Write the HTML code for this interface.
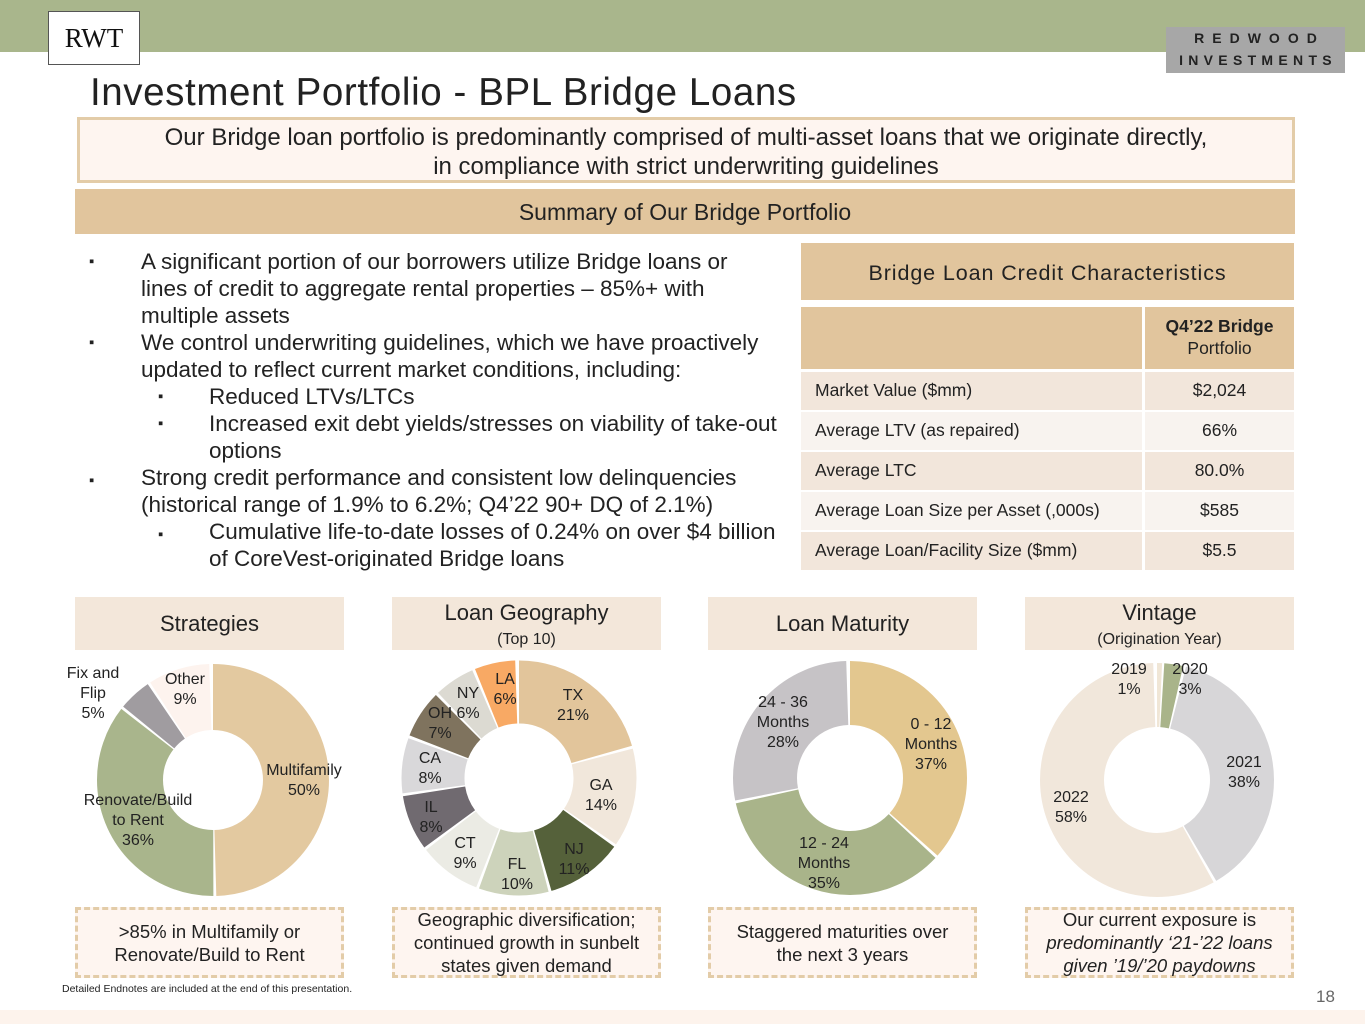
<!DOCTYPE html>
<html><head><meta charset="utf-8"><style>
body{margin:0;width:1365px;height:1024px;position:relative;background:#fff;font-family:"Liberation Sans",sans-serif;color:#222;overflow:hidden}
.a{position:absolute}
.c{text-align:center}
.dash{position:absolute;border:3px dashed #e3cca8;background:#fef5f0;box-sizing:border-box;display:flex;align-items:center;justify-content:center;text-align:center;font-size:18.5px;line-height:23px;color:#222}
.hd{position:absolute;background:#f3e7da;text-align:center;font-size:22px;color:#222}
.b{position:absolute;font-size:22.5px;line-height:27px;color:#222;white-space:nowrap}
.bl{position:absolute;font-size:15px;line-height:27px}
</style></head><body>
<div class="a" style="left:0;top:0;width:1365px;height:52px;background:#a9b68c"></div>
<div class="a" style="left:48px;top:11px;width:92px;height:54px;background:#fff;border:1px solid #555;box-sizing:border-box;font-family:'Liberation Serif',serif;font-size:27px;line-height:52px;text-align:center;color:#111">RWT</div>
<div class="a" style="left:1166px;top:27px;width:179px;height:46px;background:#a7a7a7;color:#222;font-weight:bold;font-size:14px;text-align:center;line-height:22px"><div style="letter-spacing:8px;padding-left:8px">REDWOOD</div><div style="letter-spacing:5.3px;padding-left:5px">INVESTMENTS</div></div>
<div class="a" style="left:90px;top:71px;font-size:38.5px;color:#222;letter-spacing:0.6px">Investment Portfolio - BPL Bridge Loans</div>
<div class="a c" style="left:77px;top:117px;width:1218px;height:66px;box-sizing:border-box;border:3px solid #e3cca8;background:#fef5f0;font-size:24px;line-height:29px;padding-top:3px;white-space:nowrap">Our Bridge loan portfolio is predominantly comprised of multi-asset loans that we originate directly,<br>in compliance with strict underwriting guidelines</div>
<div class="a c" style="left:75px;top:189px;width:1220px;height:45px;background:#e1c59d;font-size:23px;line-height:46px">Summary of Our Bridge Portfolio</div>

<div class="b" style="left:141px;top:248px;width:650px">
A significant portion of our borrowers utilize Bridge loans or<br>lines of credit to aggregate rental properties – 85%+ with<br>multiple assets<br>We control underwriting guidelines, which we have proactively<br>updated to reflect current market conditions, including:<br>
<span style="margin-left:68px">Reduced LTVs/LTCs</span><br>
<span style="margin-left:68px">Increased exit debt yields/stresses on viability of take-out</span><br>
<span style="margin-left:68px">options</span><br>
Strong credit performance and consistent low delinquencies<br>(historical range of 1.9% to 6.2%; Q4’22 90+ DQ of 2.1%)<br>
<span style="margin-left:68px">Cumulative life-to-date losses of 0.24% on over $4 billion</span><br>
<span style="margin-left:68px">of CoreVest-originated Bridge loans</span>
</div>
<div class="bl" style="left:89px;top:248px">▪<br><br><br>▪</div>
<div class="bl" style="left:89px;top:467px">▪</div>
<div class="bl" style="left:158px;top:383px">▪<br>▪</div>
<div class="bl" style="left:158px;top:521px">▪</div>

<div class="a c" style="left:801px;top:243px;width:493px;height:57px;background:#e1c59d;font-size:21.5px;line-height:60px;letter-spacing:0.9px;color:#222">Bridge Loan Credit Characteristics</div>
<div class="a" style="left:801px;top:307px;width:341px;height:62px;background:#e1c59d"></div>
<div class="a c" style="left:1145px;top:307px;width:149px;height:62px;background:#e1c59d;font-size:17.5px;line-height:22px;padding-top:8px;box-sizing:border-box"><b>Q4’22 Bridge</b><br>Portfolio</div>
<div class="a" style="left:801px;top:372px;width:341px;height:38px;background:#f2e6db"></div><div class="a" style="left:1145px;top:372px;width:149px;height:38px;background:#f2e6db"></div>
<div class="a" style="left:801px;top:412px;width:341px;height:38px;background:#f8f3ef"></div><div class="a" style="left:1145px;top:412px;width:149px;height:38px;background:#f8f3ef"></div>
<div class="a" style="left:801px;top:452px;width:341px;height:38px;background:#f2e6db"></div><div class="a" style="left:1145px;top:452px;width:149px;height:38px;background:#f2e6db"></div>
<div class="a" style="left:801px;top:492px;width:341px;height:38px;background:#f8f3ef"></div><div class="a" style="left:1145px;top:492px;width:149px;height:38px;background:#f8f3ef"></div>
<div class="a" style="left:801px;top:532px;width:341px;height:38px;background:#f2e6db"></div><div class="a" style="left:1145px;top:532px;width:149px;height:38px;background:#f2e6db"></div>
<div class="a" style="left:815px;top:370px;font-size:17.5px;line-height:40px">Market Value ($mm)<br>Average LTV (as repaired)<br>Average LTC<br>Average Loan Size per Asset (,000s)<br>Average Loan/Facility Size ($mm)</div>
<div class="a c" style="left:1145px;top:370px;width:149px;font-size:17.5px;line-height:40px">$2,024<br>66%<br>80.0%<br>$585<br>$5.5</div>

<div class="hd" style="left:75px;top:597px;width:269px;height:53px;line-height:54px">Strategies</div>
<div class="hd" style="left:392px;top:597px;width:269px;height:53px;line-height:24px;padding-top:4px;box-sizing:border-box">Loan Geography<br><span style="font-size:16px">(Top 10)</span></div>
<div class="hd" style="left:708px;top:597px;width:269px;height:53px;line-height:54px">Loan Maturity</div>
<div class="hd" style="left:1025px;top:597px;width:269px;height:53px;line-height:24px;padding-top:4px;box-sizing:border-box">Vintage<br><span style="font-size:16px">(Origination Year)</span></div>

<svg class="a" style="left:0;top:0" width="1365" height="1024" font-family="Liberation Sans" font-size="16" fill="#222">
<g transform="translate(213,780) rotate(-90)" fill="none" stroke-width="66">
<circle r="83" pathLength="100" stroke="#e3c9a0" stroke-dasharray="49.6 100" stroke-dashoffset="0"/>
<circle r="83" pathLength="100" stroke="#a9b58c" stroke-dasharray="35.6 100" stroke-dashoffset="-50"/>
<circle r="83" pathLength="100" stroke="#a09ca0" stroke-dasharray="4.6 100" stroke-dashoffset="-86"/>
<circle r="83" pathLength="100" stroke="#fdf3ee" stroke-dasharray="8.6 100" stroke-dashoffset="-91"/>
</g>
<g transform="translate(519,778) rotate(-90)" fill="none" stroke-width="63">
<circle r="86" pathLength="100" stroke="#e2c59b" stroke-dasharray="20.6 100" stroke-dashoffset="0"/>
<circle r="86" pathLength="100" stroke="#f1e7db" stroke-dasharray="13.6 100" stroke-dashoffset="-21"/>
<circle r="86" pathLength="100" stroke="#55613a" stroke-dasharray="10.6 100" stroke-dashoffset="-35"/>
<circle r="86" pathLength="100" stroke="#cdd3bb" stroke-dasharray="9.6 100" stroke-dashoffset="-46"/>
<circle r="86" pathLength="100" stroke="#ebebe4" stroke-dasharray="8.6 100" stroke-dashoffset="-56"/>
<circle r="86" pathLength="100" stroke="#706a70" stroke-dasharray="7.6 100" stroke-dashoffset="-65"/>
<circle r="86" pathLength="100" stroke="#d9d8da" stroke-dasharray="7.6 100" stroke-dashoffset="-73"/>
<circle r="86" pathLength="100" stroke="#7f735e" stroke-dasharray="6.6 100" stroke-dashoffset="-81"/>
<circle r="86" pathLength="100" stroke="#dcdad2" stroke-dasharray="5.6 100" stroke-dashoffset="-88"/>
<circle r="86" pathLength="100" stroke="#f8a964" stroke-dasharray="5.6 100" stroke-dashoffset="-94"/>
</g>
<g transform="translate(850,778) rotate(-90)" fill="none" stroke-width="64">
<circle r="85" pathLength="100" stroke="#e3c78f" stroke-dasharray="36.6 100" stroke-dashoffset="0"/>
<circle r="85" pathLength="100" stroke="#a9b48a" stroke-dasharray="34.6 100" stroke-dashoffset="-37"/>
<circle r="85" pathLength="100" stroke="#c6c3c6" stroke-dasharray="27.6 100" stroke-dashoffset="-72"/>
</g>
<g transform="translate(1157,780) rotate(-90)" fill="none" stroke-width="64">
<circle r="85" pathLength="100" stroke="#f0e6d6" stroke-dasharray="0.7 100" stroke-dashoffset="0"/>
<circle r="85" pathLength="100" stroke="#a9b48a" stroke-dasharray="2.6 100" stroke-dashoffset="-1"/>
<circle r="85" pathLength="100" stroke="#d7d6d8" stroke-dasharray="37.6 100" stroke-dashoffset="-4"/>
<circle r="85" pathLength="100" stroke="#f1e7db" stroke-dasharray="57.6 100" stroke-dashoffset="-42"/>
</g>
<g text-anchor="middle">
<text x="304" y="775">Multifamily</text><text x="304" y="795">50%</text>
<text x="138" y="805">Renovate/Build</text><text x="138" y="825">to Rent</text><text x="138" y="845">36%</text>
<text x="93" y="678">Fix and</text><text x="93" y="698">Flip</text><text x="93" y="718">5%</text>
<text x="185" y="684">Other</text><text x="185" y="704">9%</text>
<text x="573" y="700">TX</text><text x="573" y="720">21%</text>
<text x="601" y="790">GA</text><text x="601" y="810">14%</text>
<text x="574" y="854">NJ</text><text x="574" y="874">11%</text>
<text x="517" y="869">FL</text><text x="517" y="889">10%</text>
<text x="465" y="848">CT</text><text x="465" y="868">9%</text>
<text x="431" y="812">IL</text><text x="431" y="832">8%</text>
<text x="430" y="763">CA</text><text x="430" y="783">8%</text>
<text x="440" y="718">OH</text><text x="440" y="738">7%</text>
<text x="468" y="698">NY</text><text x="468" y="718">6%</text>
<text x="505" y="684">LA</text><text x="505" y="704">6%</text>
<text x="931" y="729">0 - 12</text><text x="931" y="749">Months</text><text x="931" y="769">37%</text>
<text x="824" y="848">12 - 24</text><text x="824" y="868">Months</text><text x="824" y="888">35%</text>
<text x="783" y="707">24 - 36</text><text x="783" y="727">Months</text><text x="783" y="747">28%</text>
<text x="1129" y="674">2019</text><text x="1129" y="694">1%</text>
<text x="1190" y="674">2020</text><text x="1190" y="694">3%</text>
<text x="1244" y="767">2021</text><text x="1244" y="787">38%</text>
<text x="1071" y="802">2022</text><text x="1071" y="822">58%</text>
</g>
</svg>

<div class="dash" style="left:75px;top:907px;width:269px;height:71px"><div>&gt;85% in Multifamily or<br>Renovate/Build to Rent</div></div>
<div class="dash" style="left:392px;top:907px;width:269px;height:71px"><div>Geographic diversification;<br>continued growth in sunbelt<br>states given demand</div></div>
<div class="dash" style="left:708px;top:907px;width:269px;height:71px"><div>Staggered maturities over<br>the next 3 years</div></div>
<div class="dash" style="left:1025px;top:907px;width:269px;height:71px"><div>Our current exposure is<br><i>predominantly ‘21-’22 loans<br>given ’19/’20 paydowns</i></div></div>
<div class="a" style="left:62px;top:983px;font-size:10.5px;color:#222">Detailed Endnotes are included at the end of this presentation.</div>
<div class="a" style="left:1316px;top:987px;font-size:17px;color:#666">18</div>
<div class="a" style="left:0;top:1010px;width:1365px;height:14px;background:#fdf3ec"></div>
</body></html>
